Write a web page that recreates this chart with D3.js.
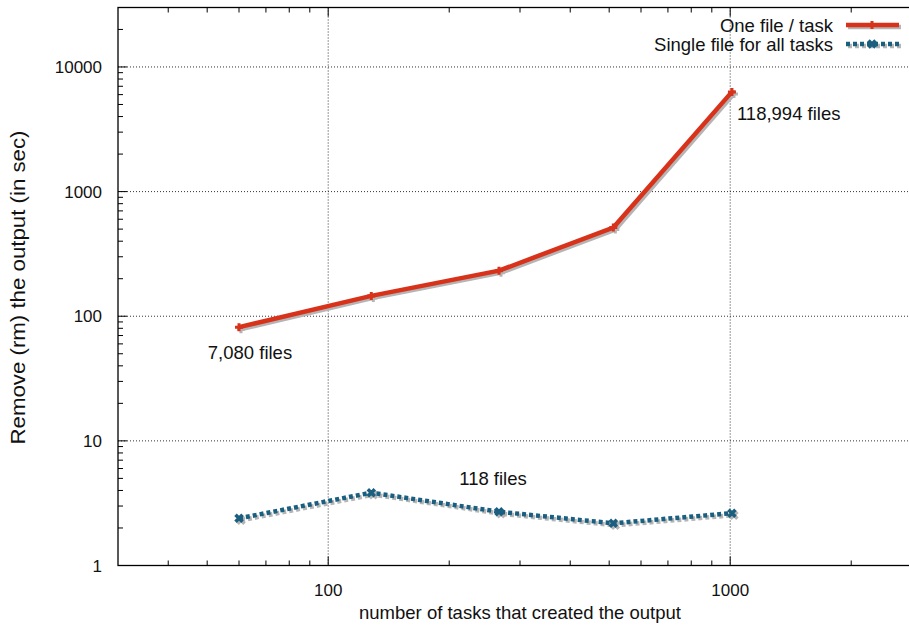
<!DOCTYPE html>
<html>
<head>
<meta charset="utf-8">
<script src="https://cdn.jsdelivr.net/npm/d3@7/dist/d3.min.js"></script>
<style>
  html, body { margin: 0; padding: 0; background: #fff; }
  svg { display: block; font-family: "Liberation Sans", Arial, Helvetica, sans-serif; }
</style>
</head>
<body>
<svg id="chart" width="909" height="625"></svg>
<script>
// Number of tasks for each run
const tasks = [60, 128, 266, 512, 1010];
// Removal time (seconds) when every task writes its own file
const oneFilePerTask = [81.7, 145.6, 232, 515, 6310];
// Removal time (seconds) when all tasks share one file
const singleFile = [2.39, 3.84, 2.70, 2.18, 2.63];

const seriesNames = ["One file / task", "Single file for all tasks"];
const xTickValues = [100, 1000];
const yTickValues = [1, 10, 100, 1000, 10000];

// Annotations placed next to a data point
const notes = [
  { task: 60, secs: 81.7, text: "7,080 files", anchor: "middle", dx: 11, dy: 32 },
  { task: 1010, secs: 6310, text: "118,994 files", anchor: "start", dx: 5, dy: 28 },
  { task: 266, secs: 2.70, text: "118 files", anchor: "middle", dx: -6, dy: -27 }
];

const svg = d3.select("#chart");
const plotLeft = 118, plotRight = 922, plotTop = 7.5, plotBottom = 565.5;

const x = d3.scaleLog().domain([30, 3000]).range([plotLeft, plotRight]);
const y = d3.scaleLog().domain([1, 30000]).range([plotBottom, plotTop]);

const red = "#d8321a";
const blue = "#1b5f80";
const shadow = "#b5b5b5";
const labelSize = 18.5;
const tickSize = 17;

// Grid (dotted) at decades
const grid = svg.append("g");
grid.selectAll("line.gx").data(xTickValues).join("line")
  .attr("x1", d => x(d)).attr("x2", d => x(d))
  .attr("y1", plotTop).attr("y2", plotBottom)
  .attr("stroke", "#333").attr("stroke-width", 1).attr("stroke-dasharray", "1,2");
grid.selectAll("line.gy").data(yTickValues.filter(d => d > 1)).join("line")
  .attr("x1", plotLeft).attr("x2", plotRight)
  .attr("y1", d => y(d)).attr("y2", d => y(d))
  .attr("stroke", "#333").attr("stroke-width", 1).attr("stroke-dasharray", "1,2");

// Minor tick values for a log axis
function minorTicks(domain) {
  const out = [];
  for (let e = -1; e <= 6; e++) {
    for (let m = 2; m <= 9; m++) {
      const v = m * Math.pow(10, e);
      if (v > domain[0] && v < domain[1]) out.push(v);
    }
  }
  return out;
}

const ticks = svg.append("g").attr("stroke", "#000").attr("stroke-width", 1);
// x ticks (bottom and top, inward)
xTickValues.forEach(v => {
  ticks.append("line").attr("x1", x(v)).attr("x2", x(v)).attr("y1", plotBottom).attr("y2", plotBottom - 9);
  ticks.append("line").attr("x1", x(v)).attr("x2", x(v)).attr("y1", plotTop).attr("y2", plotTop + 9);
});
minorTicks(x.domain()).forEach(v => {
  ticks.append("line").attr("x1", x(v)).attr("x2", x(v)).attr("y1", plotBottom).attr("y2", plotBottom - 5);
  ticks.append("line").attr("x1", x(v)).attr("x2", x(v)).attr("y1", plotTop).attr("y2", plotTop + 5);
});
// y ticks (left, inward)
yTickValues.forEach(v => {
  ticks.append("line").attr("x1", plotLeft).attr("x2", plotLeft + 9).attr("y1", y(v)).attr("y2", y(v));
});
minorTicks(y.domain()).forEach(v => {
  ticks.append("line").attr("x1", plotLeft).attr("x2", plotLeft + 5).attr("y1", y(v)).attr("y2", y(v));
});

// Frame
svg.append("rect").attr("x", plotLeft).attr("y", plotTop)
  .attr("width", plotRight - plotLeft).attr("height", plotBottom - plotTop)
  .attr("fill", "none").attr("stroke", "#000").attr("stroke-width", 1.3);

// Tick labels
svg.append("g").selectAll("text").data(xTickValues).join("text")
  .attr("x", d => x(d)).attr("y", 596)
  .attr("text-anchor", "middle").attr("font-size", tickSize).attr("fill", "#111")
  .text(d => d);
svg.append("g").selectAll("text").data(yTickValues).join("text")
  .attr("x", 102).attr("y", d => y(d) + 6)
  .attr("text-anchor", "end").attr("font-size", tickSize).attr("fill", "#111")
  .text(d => d);

// Axis titles
svg.append("text").attr("x", 520).attr("y", 619)
  .attr("text-anchor", "middle").attr("font-size", labelSize).attr("fill", "#111")
  .text("number of tasks that created the output");
svg.append("text")
  .attr("transform", "translate(25,287.5) rotate(-90)")
  .attr("text-anchor", "middle").attr("font-size", 20).attr("fill", "#111")
  .attr("textLength", 314).attr("lengthAdjust", "spacingAndGlyphs")
  .text("Remove (rm) the output (in sec)");

const line = d3.line().x(d => x(d[0])).y(d => y(d[1]));
const redData = tasks.map((t, i) => [t, oneFilePerTask[i]]);
const blueData = tasks.map((t, i) => [t, singleFile[i]]);

const plusPath = "M-4,0H4M0,-4V4";
const xPath = "M-3.5,-3.5L3.5,3.5M-3.5,3.5L3.5,-3.5";

function drawSeries(data, color, dash, width, markerPath, markerWidth) {
  const g = svg.append("g");
  // drop shadow
  g.append("path").datum(data).attr("d", line)
    .attr("transform", "translate(2,2)")
    .attr("fill", "none").attr("stroke", shadow).attr("stroke-width", width)
    .attr("stroke-dasharray", dash);
  g.selectAll("path.sm").data(data).join("path").attr("class", "sm")
    .attr("transform", d => `translate(${x(d[0]) + 2},${y(d[1]) + 2})`)
    .attr("d", markerPath).attr("stroke", shadow).attr("stroke-width", markerWidth).attr("fill", "none");
  g.append("path").datum(data).attr("d", line)
    .attr("fill", "none").attr("stroke", color).attr("stroke-width", width)
    .attr("stroke-dasharray", dash);
  g.selectAll("path.mk").data(data).join("path").attr("class", "mk")
    .attr("transform", d => `translate(${x(d[0])},${y(d[1])})`)
    .attr("d", markerPath).attr("stroke", color).attr("stroke-width", markerWidth).attr("fill", "none");
}

drawSeries(redData, red, null, 4.5, plusPath, 3);
drawSeries(blueData, blue, "4,3", 4.5, xPath, 3.5);

// Annotations
svg.append("g").selectAll("text").data(notes).join("text")
  .attr("x", d => x(d.task) + d.dx).attr("y", d => y(d.secs) + d.dy)
  .attr("text-anchor", d => d.anchor).attr("font-size", labelSize).attr("fill", "#111")
  .text(d => d.text);

// Legend
const legend = svg.append("g");
const legendRows = [
  { name: seriesNames[0], color: red, dash: null, marker: plusPath, w: 3, yPos: 25 },
  { name: seriesNames[1], color: blue, dash: "4,3", marker: xPath, w: 3.5, yPos: 44 }
];
legendRows.forEach(r => {
  legend.append("text").attr("x", 833).attr("y", r.yPos + 6.5)
    .attr("text-anchor", "end").attr("font-size", labelSize).attr("fill", "#111").text(r.name);
  legend.append("line").attr("x1", 848).attr("x2", 901).attr("y1", r.yPos + 2).attr("y2", r.yPos + 2)
    .attr("stroke", shadow).attr("stroke-width", 4.5).attr("stroke-dasharray", r.dash);
  legend.append("line").attr("x1", 846).attr("x2", 899).attr("y1", r.yPos).attr("y2", r.yPos)
    .attr("stroke", r.color).attr("stroke-width", 4.5).attr("stroke-dasharray", r.dash);
  legend.append("path").attr("transform", `translate(872,${r.yPos})`)
    .attr("d", r.marker).attr("stroke", r.color).attr("stroke-width", r.w).attr("fill", "none");
});
</script>
</body>
</html>
